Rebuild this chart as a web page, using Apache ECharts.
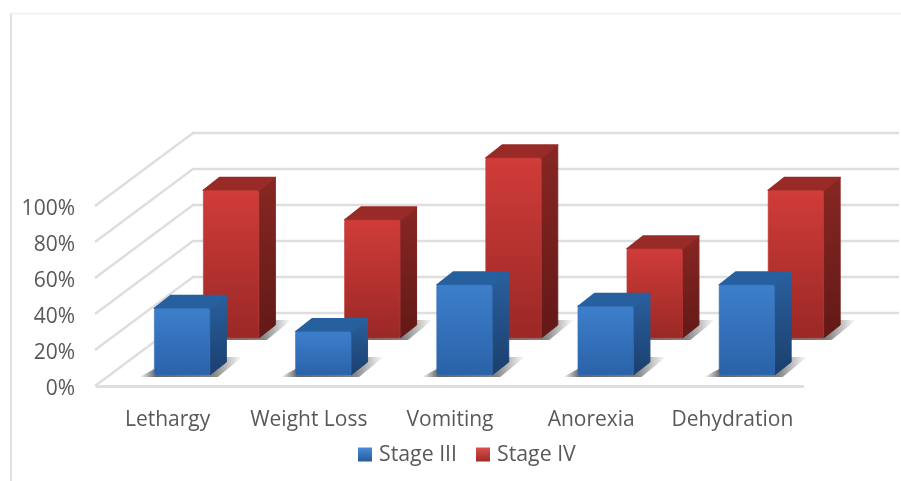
<!DOCTYPE html>
<html>
<head>
<meta charset="utf-8">
<style>html,body{margin:0;padding:0;background:#fff}#chart{width:901px;height:481px}</style>
<script src="https://cdn.jsdelivr.net/npm/echarts@6/dist/echarts.min.js"></script>
</head>
<body>
<div id="chart"></div>
<script>
const categories = ['Lethargy', 'Weight Loss', 'Vomiting', 'Anorexia', 'Dehydration'];
const stageIII = [37, 24, 50, 38, 50];
const stageIV = [82, 65.5, 100, 49.5, 82];
const percentTicks = [0, 20, 40, 60, 80, 100];

// Oblique projection of the floor: how far the back wall sits from the front edge.
const WALL_DX = 96, WALL_DY = -73;
const BAR_WIDTH = 55.5, BAR_DX = 16.5, BAR_DY = -13;
const TEXT = '#595959', GRID = '#dedede', FONT = '"Open Sans"', FONT_SIZE = 21;

function vGrad(a, b) {
  return { type: 'linear', x: 0, y: 0, x2: 0, y2: 1, colorStops: [{ offset: 0, color: a }, { offset: 1, color: b }] };
}
function hGrad(stops) {
  return { type: 'linear', x: 0, y: 0, x2: 1, y2: 0, colorStops: stops };
}

const palette = {
  blue: { front: vGrad('#3d7fcc', '#2a62a8'), side: vGrad('#29609e', '#1b3f6e'), top: '#27609f', edge: '#3472bb' },
  red: { front: vGrad('#d03c39', '#9a2826'), side: vGrad('#872723', '#621917'), top: '#982a27', edge: '#c23734' }
};

// One 3D column: cast shadow, side face, top face and front face, placed by the axis scales.
function columnRenderer(colors, shiftX, shiftY) {
  return function (params, api) {
    const base = api.coord([api.value(0), 0]);
    const head = api.coord([api.value(0), api.value(1)]);
    const x0 = base[0] - BAR_WIDTH / 2 + shiftX;
    const x1 = x0 + BAR_WIDTH;
    const by = base[1] + shiftY;
    const ty = head[1] + shiftY;
    const shadow = hGrad([
      { offset: 0, color: 'rgba(50,50,50,0)' },
      { offset: 0.16, color: 'rgba(50,50,50,0.75)' },
      { offset: 0.72, color: 'rgba(50,50,50,0.6)' },
      { offset: 1, color: 'rgba(50,50,50,0)' }
    ]);
    return {
      type: 'group',
      children: [
        {
          type: 'polygon',
          shape: { points: [[x0 - 15, by + 2], [x0, by - 6], [x1 + BAR_DX, by + BAR_DY - 5], [x1 + BAR_DX + 16, by + BAR_DY - 5], [x1 + 8, by + 2]] },
          style: { fill: shadow }
        },
        {
          type: 'polygon',
          shape: { points: [[x1, ty], [x1 + BAR_DX, ty + BAR_DY], [x1 + BAR_DX, by + BAR_DY], [x1, by]] },
          style: { fill: colors.side, stroke: colors.side, lineWidth: 1, lineJoin: 'round' }
        },
        {
          type: 'polygon',
          shape: { points: [[x0, ty], [x0 + BAR_DX, ty + BAR_DY], [x1 + BAR_DX, ty + BAR_DY], [x1, ty]] },
          style: { fill: colors.top, stroke: colors.top, lineWidth: 1.5, lineJoin: 'round' }
        },
        {
          type: 'rect',
          shape: { x: x0, y: ty, width: BAR_WIDTH, height: by - ty, r: 2 },
          style: { fill: colors.front, stroke: colors.edge, lineWidth: 0.6 }
        }
      ]
    };
  };
}

// Back-wall rules and the diagonals running across the side wall to the front edge.
function wallRenderer(params, api) {
  const y = api.coord([0, api.value(1)])[1];
  const left = params.coordSys.x;
  const right = left + params.coordSys.width;
  return {
    type: 'polyline',
    shape: { points: [[left - 2, y], [left + WALL_DX, y + WALL_DY], [right + WALL_DX, y + WALL_DY]] },
    style: { stroke: GRID, lineWidth: 2.4, fill: null }
  };
}

const chart = echarts.init(document.getElementById('chart'), null, { renderer: 'canvas' });
chart.setOption({
  animation: false,
  backgroundColor: '#fff',
  graphic: [
    { type: 'line', shape: { x1: 11, y1: 13, x2: 11, y2: 481 }, style: { stroke: '#e2e2e2', lineWidth: 2 } },
    { type: 'line', shape: { x1: 11, y1: 13.5, x2: 901, y2: 13.5 }, style: { stroke: '#f0f0f0', lineWidth: 1.5 } }
  ],
  grid: { left: 97, right: 98, top: 206, bottom: 95 },
  xAxis: {
    type: 'category',
    data: categories,
    axisTick: { show: false },
    axisLine: { lineStyle: { color: GRID, width: 3 } },
    axisLabel: { color: TEXT, fontFamily: FONT, fontSize: FONT_SIZE, margin: 24, interval: 0, hideOverlap: false }
  },
  yAxis: {
    type: 'value',
    min: 0,
    max: 100,
    interval: 20,
    axisLine: { show: false },
    axisTick: { show: false },
    splitLine: { show: false },
    axisLabel: {
      margin: 22,
      formatter: '{pct|{value}%}',
      rich: { pct: { color: TEXT, fontFamily: FONT, fontSize: FONT_SIZE, padding: [6, 0, 0, 0] } }
    }
  },
  legend: {
    left: 353,
    top: 439,
    itemWidth: 14,
    itemHeight: 14,
    itemGap: 19,
    itemStyle: { borderWidth: 0 },
    textStyle: { color: TEXT, fontFamily: FONT, fontSize: 21.3, padding: [0, 0, 0, 2] },
    data: [
      { name: 'Stage III', icon: 'rect' },
      { name: 'Stage IV', icon: 'rect' }
    ]
  },
  series: [
    {
      type: 'custom',
      silent: true,
      z: 1,
      renderItem: wallRenderer,
      encode: { x: 0, y: 1 },
      data: percentTicks.map(t => [0, t])
    },
    {
      name: 'Stage IV',
      type: 'custom',
      z: 2,
      renderItem: columnRenderer(palette.red, 63.5, -48),
      itemStyle: { color: vGrad('#d8504c', '#a02a27') },
      encode: { x: 0, y: 1 },
      data: stageIV.map((v, i) => [i, v])
    },
    {
      name: 'Stage III',
      type: 'custom',
      z: 3,
      renderItem: columnRenderer(palette.blue, 14.5, -11),
      itemStyle: { color: vGrad('#4a8cd6', '#265b9f') },
      encode: { x: 0, y: 1 },
      data: stageIII.map((v, i) => [i, v])
    }
  ]
});
</script>
</body>
</html>
